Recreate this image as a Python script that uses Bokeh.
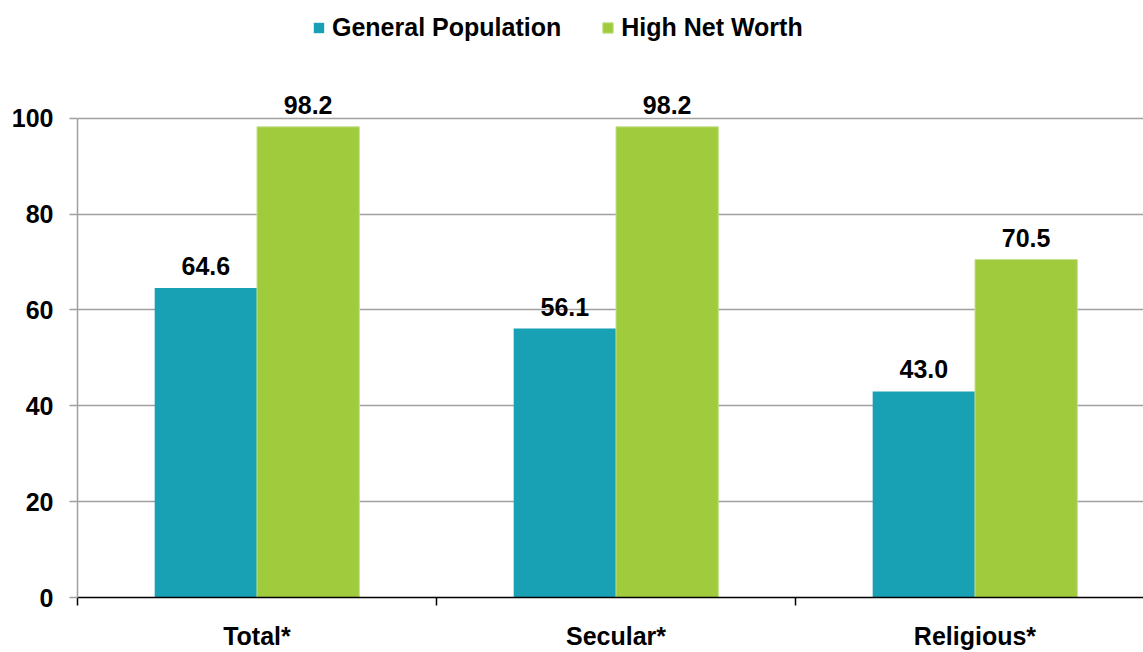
from bokeh.plotting import figure
from bokeh.models import Range1d, FixedTicker, ColumnDataSource, Legend, LegendItem
from bokeh.transform import dodge
from bokeh.core.properties import value
from bokeh.embed import file_html
from bokeh.resources import INLINE

categories = ["Total*", "Secular*", "Religious*"]
general_population = [64.6, 56.1, 43.0]
high_net_worth = [98.2, 98.2, 70.5]
series_names = ["General Population", "High Net Worth"]
y_ticks = [0, 20, 40, 60, 80, 100]

TEAL = "#18a0b4"
GREEN = "#9fcb3d"
FONT = "Liberation Sans"

pos = [i + 0.5 for i in range(len(categories))]
src = ColumnDataSource(dict(
    x=pos, gp=general_population, hnw=high_net_worth,
    gp_lab=["%.1f" % v for v in general_population],
    hnw_lab=["%.1f" % v for v in high_net_worth],
))

p = figure(width=1143, height=652, output_backend="svg", toolbar_location=None,
           x_range=Range1d(0, 2.9694), y_range=Range1d(0, 124.56),
           min_border_left=77, min_border_right=0, min_border_top=0, min_border_bottom=52)
p.outline_line_color = None
p.background_fill_color = "white"
p.border_fill_color = "white"

bw = 0.285
r1 = p.vbar(x=dodge("x", -bw / 2, range=p.x_range), top="gp", width=bw, source=src,
            fill_color=TEAL, line_color=None)
r2 = p.vbar(x=dodge("x", bw / 2, range=p.x_range), top="hnw", width=bw, source=src,
            fill_color=GREEN, line_color="#c4e08a", line_width=1)

common = dict(text_font=value(FONT), text_font_style="bold", text_font_size="25px",
              text_color="black", text_align="center", text_baseline="alphabetic", y_offset=-22)
p.text(x=dodge("x", -bw / 2, range=p.x_range), y="gp", text="gp_lab", source=src, **common)
p.text(x=dodge("x", bw / 2, range=p.x_range), y="hnw", text="hnw_lab", source=src, **common)

# y axis
ya = p.yaxis[0]
ya.ticker = FixedTicker(ticks=y_ticks)
ya.bounds = (0, 100)
ya.axis_line_color = "#a0a0a0"
ya.axis_line_width = 1.5
ya.major_tick_line_color = "#a0a0a0"
ya.major_tick_line_width = 1.5
ya.major_tick_out = 8
ya.major_tick_in = 0
ya.minor_tick_line_color = None
ya.major_label_text_font = FONT
ya.major_label_text_font_style = "bold"
ya.major_label_text_font_size = "25px"
ya.major_label_text_color = "black"
ya.major_label_standoff = 16

p.ygrid.ticker = FixedTicker(ticks=y_ticks)
p.ygrid.grid_line_color = "#a0a0a0"
p.ygrid.grid_line_width = 1.5
p.xgrid.grid_line_color = None

# x axis
xa = p.xaxis[0]
xa.ticker = FixedTicker(ticks=pos, minor_ticks=list(range(len(categories) + 1)))
xa.major_label_overrides = {pos[i]: categories[i] for i in range(len(categories))}
xa.axis_line_color = "black"
xa.axis_line_width = 1.5
xa.major_tick_line_color = None
xa.major_tick_out = 0
xa.major_tick_in = 0
xa.minor_tick_line_color = "black"
xa.minor_tick_line_width = 1.5
xa.minor_tick_out = 8
xa.minor_tick_in = 0
xa.major_label_text_font = FONT
xa.major_label_text_font_style = "bold"
xa.major_label_text_font_size = "25px"
xa.major_label_text_color = "black"
xa.major_label_standoff = 16

legend = Legend(items=[LegendItem(label=series_names[0], renderers=[r1]),
                       LegendItem(label=series_names[1], renderers=[r2])],
                orientation="horizontal", location=(235, 555),
                label_text_font=FONT, label_text_font_style="bold",
                label_text_font_size="25px", label_text_color="black",
                glyph_width=13, glyph_height=13, label_standoff=7, spacing=40,
                padding=0, margin=0, border_line_color=None, background_fill_alpha=0)
p.add_layout(legend)

open("out.html", "w").write(file_html(p, INLINE))
